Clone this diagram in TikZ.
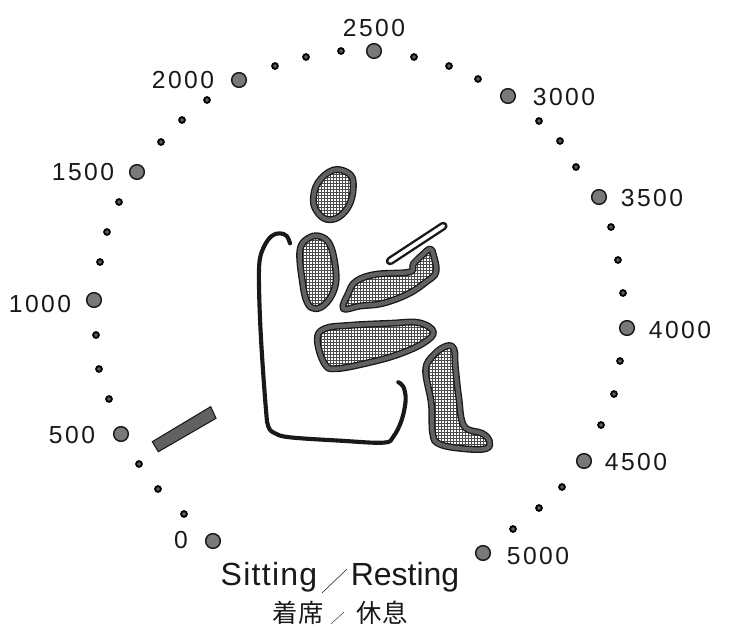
\documentclass[tikz,border=0pt]{standalone}
\usepackage{fontspec}
\setmainfont{Liberation Sans}
\newfontfamily\numfont[LetterSpace=10]{Liberation Sans}
\newfontfamily\capfont[LetterSpace=4]{Liberation Sans}
\newfontfamily\cjkf{Noto Sans CJK JP}
\usetikzlibrary{patterns}
\pgfdeclarepatternformonly{meshfine}{\pgfqpoint{-0.1pt}{-0.1pt}}{\pgfqpoint{2.4pt}{2.4pt}}{\pgfqpoint{2.25pt}{2.25pt}}{%
  \pgfsetlinewidth{0.7pt}
  \pgfpathmoveto{\pgfqpoint{0pt}{0pt}}\pgfpathlineto{\pgfqpoint{2.25pt}{0pt}}
  \pgfpathmoveto{\pgfqpoint{0pt}{0pt}}\pgfpathlineto{\pgfqpoint{0pt}{2.25pt}}
  \pgfusepath{stroke}}
\definecolor{ink}{gray}{0.1}
\definecolor{band}{gray}{0.38}
\definecolor{mesh}{gray}{0.3}
\tikzset{
  num/.style={inner sep=0pt,font=\numfont\fontsize{18.5pt}{20pt}\selectfont,text=ink},
  capt/.style={inner sep=0pt,text=ink},
  bigdot/.style={circle,draw=ink,line width=1.1pt,fill=band!85,minimum size=11pt,inner sep=0pt},
  smalldot/.style={circle,draw=black,line width=1.4pt,fill=band,minimum size=4.3pt,inner sep=0pt},
  chairline/.style={draw=ink,line width=3.1pt,line cap=round,line join=round},
  bodyfill/.style={pattern=meshfine,pattern color=mesh},
  bodyedge/.style={draw=ink,line width=5.2pt,line join=round},
  bodyband/.style={draw=band,line width=3.2pt,line join=round}
}
\newcommand{\bodypart}[1]{%
  \fill[white] plot[smooth cycle,tension=0.65] coordinates {#1};
  \path[bodyfill] plot[smooth cycle,tension=0.65] coordinates {#1};
  \draw[bodyedge] plot[smooth cycle,tension=0.65] coordinates {#1};
  \draw[bodyband] plot[smooth cycle,tension=0.65] coordinates {#1};
}
\begin{document}
\begin{tikzpicture}[x=0.75pt,y=-0.75pt]
\useasboundingbox (0,0) rectangle (732,627);
% dial
\foreach \n/\x/\y in {a/213/541,b/121/434,c/94/300,d/137/172,e/239/80,f/374/51,g/508/96,h/599/197,i/627/328,j/584/461,k/483/553}
  \node[bigdot] (big\n) at (\x,\y) {};
\foreach \n/\x/\y in {1/184/514,2/158/489,3/139/464,4/109/399,5/99/369,6/96/335,7/100/262,8/107/232,9/119/202,10/161/142,11/182/120,12/207/100,13/275/66,14/306/57,15/341/51,16/414/57,17/449/66,18/478/79,19/539/121,20/560/141,21/576/167,22/611/227,23/618/260,24/623/293,25/620/361,26/614/394,27/601/425,28/562/487,29/539/508,30/513/529}
  \node[smalldot] (small\n) at (\x,\y) {};
\node[num] (l0) at (181,540) {0};
\node[num] (l500) at (72,435) {500};
\node[num] (l1000) at (40,304) {1000};
\node[num] (l1500) at (83,172) {1500};
\node[num] (l2000) at (183,80) {2000};
\node[num] (l2500) at (374,28) {2500};
\node[num] (l3000) at (564,97) {3000};
\node[num] (l3500) at (652,198) {3500};
\node[num] (l4000) at (680,330) {4000};
\node[num] (l4500) at (636,462) {4500};
\node[num] (l5000) at (538,556) {5000};
% pointer
\draw[draw=ink,line width=0.8pt,fill=band] (152.3,441.7) -- (210.7,406.7) -- (216,418.3) -- (158.3,451.7) -- cycle;
% figure
\begin{scope}[shift={(240,150)},x=0.25pt,y=-0.25pt]
\draw[chairline] plot[smooth,tension=0.6] coordinates {(150,280) (140,258) (120,250) (95,258) (72,290) (58,340) (58,450) (65,600) (78,780) (85,830) (105,850) (150,862) (300,872) (430,878) (460,860) (485,810) (497,750) (490,710) (475,697)};
\bodypart{(280,60) (326,70) (340,102) (330,160) (298,200) (260,208) (232,186) (220,150) (234,98)}
\bodypart{(210,262) (248,262) (274,294) (288,370) (282,420) (256,462) (225,476) (202,458) (188,400) (180,300)}
\bodypart{(310,476) (325,430) (348,394) (407,373) (508,366) (520,342) (548,314) (570,297) (580,314) (588,366) (558,396) (504,432) (428,460) (360,468)}
\bodypart{(232,570) (254,536) (330,526) (450,520) (536,518) (580,545) (552,578) (478,612) (390,637) (290,656) (254,642)}
\bodypart{(620,588) (642,598) (646,650) (656,740) (672,828) (726,850) (748,872) (738,896) (670,896) (598,882) (578,850) (574,760) (557,660) (582,614)}
\draw[draw=ink,line width=6.4pt,line cap=round] (450,333) -- (610,228);
\draw[draw=white,line width=2.8pt,line cap=round] (450,333) -- (610,228);
\end{scope}
% caption
\node[capt,font=\capfont\fontsize{24pt}{26pt}\selectfont] (capa) at (269,577) {Sitting};
\node[capt,font=\fontsize{24pt}{26pt}\selectfont] (capb) at (405,577) {Resting};
\node[capt,font=\cjkf\fontsize{19pt}{21pt}\selectfont] (capc) at (298,613) {着席};
\node[capt,font=\cjkf\fontsize{19pt}{21pt}\selectfont] (capd) at (382,613) {休息};
\draw[ink,line width=0.4pt] (322,593) -- (347,569);
\draw[ink,line width=0.3pt] (331,624) -- (344,612);
\end{tikzpicture}
\end{document}
